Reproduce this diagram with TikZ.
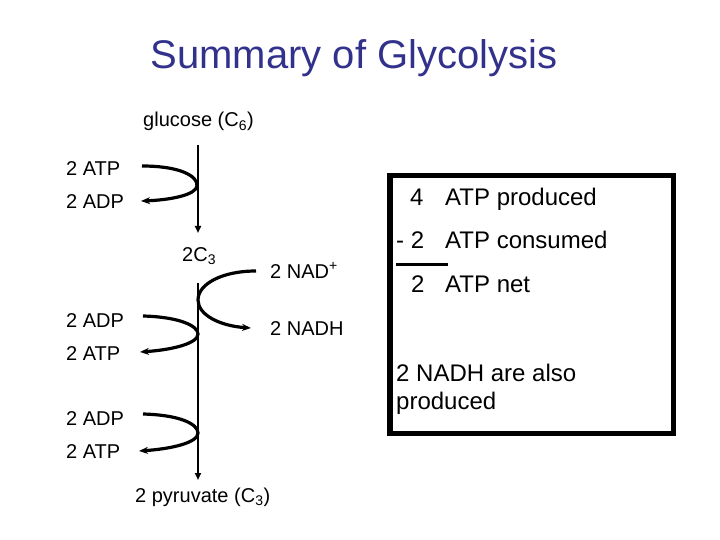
\documentclass[tikz,border=0pt]{standalone}
\usepackage{fontspec}
\setmainfont{Liberation Sans}
\usetikzlibrary{arrows.meta}
\definecolor{titleblue}{RGB}{50,50,140}

\tikzset{
  lbl/.style={anchor=base west,inner sep=0pt,font=\fontsize{20}{24}\selectfont},
  boxtxt/.style={anchor=base west,inner sep=0pt,font=\fontsize{24}{28}\selectfont},
  flow/.style={line width=1.8,-{Triangle[length=7,width=6]}},
  loop/.style={line width=3.2,-{Stealth[length=9,width=7]}}
}

\begin{document}
\begin{tikzpicture}[x=1pt,y=1pt,yscale=-1,xscale=1]
\useasboundingbox (0,0) rectangle (720,540);

% Text Node
\node (title) [anchor=base,inner sep=0pt,text=titleblue,font=\fontsize{40}{44}\selectfont] at (354,69) {Summary of Glycolysis};
% Text Node
\node (glucose) [lbl] at (143,127) {glucose (C\textsubscript{6})};
\node (atpA) [lbl] at (66,176) {2 ATP};
\node (adpA) [lbl] at (66,208) {2 ADP};
\node (cthree) [lbl] at (182,261) {2C\textsubscript{3}};
\node (nad) [lbl] at (270,278) {2 NAD\textsuperscript{+}};
\node (nadh) [lbl] at (270,335) {2 NADH};
\node (adpB) [lbl] at (66,327) {2 ADP};
\node (atpB) [lbl] at (66,360) {2 ATP};
\node (adpC) [lbl] at (66,425) {2 ADP};
\node (atpC) [lbl] at (66,458) {2 ATP};
\node (pyruvate) [lbl] at (135,502) {2 pyruvate (C\textsubscript{3})};

%Straight Lines
\coordinate (lineA) at (198,145);
\coordinate (tipA) at (198,233);
\coordinate (lineB) at (198,283);
\coordinate (tipB) at (198,480);
\draw [flow] (lineA) -- (tipA);
\draw [flow] (lineB) -- (tipB);

%Curve Lines
\coordinate (inA) at (142,166);
\coordinate (outA) at (141,201);
\draw [loop] (inA) .. controls (180,166) and (198,176) .. (197,186) .. controls (196,195) and (170,200) .. (outA);
\coordinate (inN) at (256,271);
\coordinate (outN) at (251,328);
\draw [loop] (inN) .. controls (222,271) and (198,284) .. (198,300) .. controls (198,315) and (220,326) .. (outN);
\coordinate (inB) at (143,316);
\coordinate (outB) at (140,352);
\draw [loop] (inB) .. controls (180,317) and (198,326) .. (198,334) .. controls (198,344) and (170,350) .. (outB);
\coordinate (inC) at (143,414);
\coordinate (outC) at (139,451);
\draw [loop] (inC) .. controls (180,415) and (198,424) .. (198,433) .. controls (198,443) and (170,449) .. (outC);

%Shape: Rectangle
\draw [line width=5.5] (390,175.5) rectangle (673.5,433.5);
% Text Node
\node (fourA) [boxtxt] at (410,206) {4};
\node (prodA) [boxtxt] at (445,206) {ATP produced};
\node (twoB) [boxtxt] at (396,248) {- 2};
\node (consB) [boxtxt] at (445,248) {ATP consumed};
\draw [line width=3] (396,264) -- (448,264);
\node (twoC) [boxtxt] at (411,292) {2};
\node (netC) [boxtxt] at (445,292) {ATP net};
\node (also) [boxtxt] at (396,381) {2 NADH are also};
\node (also2) [boxtxt] at (396,409) {produced};

\end{tikzpicture}
\end{document}
